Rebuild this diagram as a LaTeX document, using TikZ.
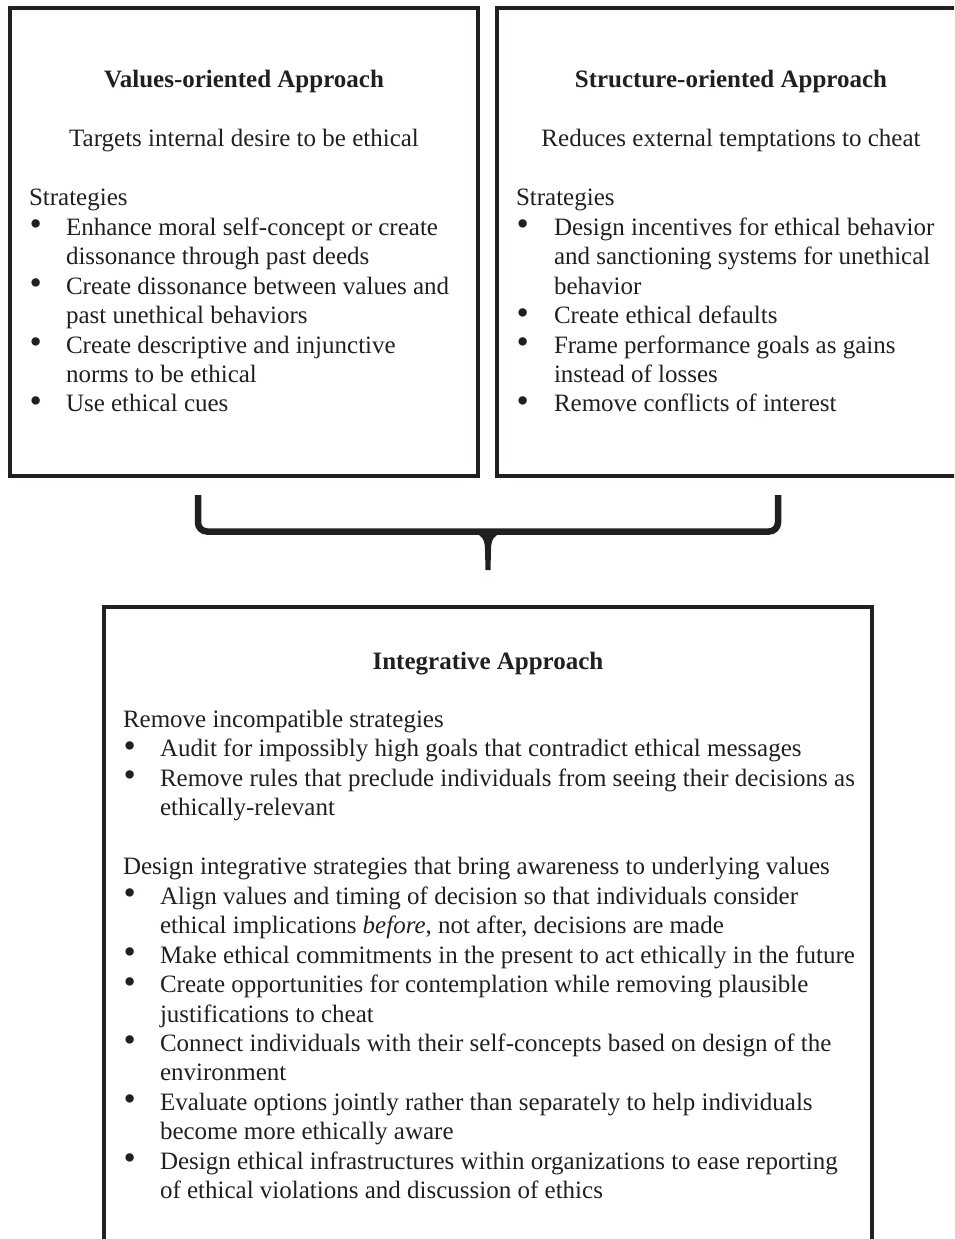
\documentclass[tikz,border=0pt]{standalone}
\usepackage{fontspec}
\usepackage{graphicx}
\setmainfont{Liberation Serif}
\definecolor{ink}{RGB}{35,31,32}

\begin{document}
\begin{tikzpicture}[x=1pt,y=-1pt,line width=4pt,draw=ink,
  txt/.style={inner sep=0pt,text=ink,font=\fontsize{25}{29.45}\selectfont},
  ttl/.style={txt,anchor=base,font=\fontsize{25}{29.45}\selectfont\bfseries},
  sub/.style={txt,anchor=base},
  lst/.style={txt,anchor=base west}]
\newcommand{\bul}{\hspace*{0.5pt}\raisebox{-0.5pt}{\scalebox{1.4}{\textbullet}}}
\useasboundingbox (0,0) rectangle (954,1239);
\clip (0,0) rectangle (954,1239);
% ---------- the three boxes ----------
\draw (10,8) rectangle (478,476);
\draw (497,8) rectangle (965,476);
\draw (104,607) rectangle (872,1262);
% ---------- values-oriented approach ----------
\node[ttl] (vtitle) at (244,88) {Values-oriented Approach};
\node[sub] (vsub) at (244,146.9) {Targets internal desire to be ethical};
\node[lst] (vlist) at (27,205.8) {\begin{tabular}[t]{@{}p{37pt}@{}l@{}}
  \multicolumn{2}{@{}l@{}}{Strategies}\\
  \bul & Enhance moral self-concept or create\\
       & dissonance through past deeds\\
  \bul & Create dissonance between values and\\
       & past unethical behaviors\\
  \bul & Create descriptive and injunctive\\
       & norms to be ethical\\
  \bul & Use ethical cues
\end{tabular}};
% ---------- structure-oriented approach ----------
\node[ttl] (stitle) at (731,88) {Structure-oriented Approach};
\node[sub] (ssub) at (731,146.9) {Reduces external temptations to cheat};
\node[lst] (slist) at (514,205.8) {\begin{tabular}[t]{@{}p{38pt}@{}l@{}}
  \multicolumn{2}{@{}l@{}}{Strategies}\\
  \bul & Design incentives for ethical behavior\\
       & and sanctioning systems for unethical\\
       & behavior\\
  \bul & Create ethical defaults\\
  \bul & Frame performance goals as gains\\
       & instead of losses\\
  \bul & Remove conflicts of interest
\end{tabular}};
% ---------- brace joining the two approaches ----------
\draw[line width=6.5pt,rounded corners=9pt] (198,495) |- (778,531.5) -- (778,495);
\fill[ink] (474,534) .. controls (482,534) and (485,540) .. (485,550)
  -- (485.5,570) -- (490.5,570) -- (491,550)
  .. controls (491,540) and (494,534) .. (502,534) -- cycle;
% ---------- integrative approach ----------
\node[ttl] (ititle) at (488,669) {Integrative Approach};
\node[lst] (ilist) at (121,727.5) {\begin{tabular}[t]{@{}p{37pt}@{}l@{}}
  \multicolumn{2}{@{}l@{}}{Remove incompatible strategies}\\
  \bul & Audit for impossibly high goals that contradict ethical messages\\
  \bul & Remove rules that preclude individuals from seeing their decisions as\\
       & ethically-relevant\\
       & \\
  \multicolumn{2}{@{}l@{}}{Design integrative strategies that bring awareness to underlying values}\\
  \bul & Align values and timing of decision so that individuals consider\\
       & ethical implications \emph{before}, not after, decisions are made\\
  \bul & Make ethical commitments in the present to act ethically in the future\\
  \bul & Create opportunities for contemplation while removing plausible\\
       & justifications to cheat\\
  \bul & Connect individuals with their self-concepts based on design of the\\
       & environment\\
  \bul & Evaluate options jointly rather than separately to help individuals\\
       & become more ethically aware\\
  \bul & Design ethical infrastructures within organizations to ease reporting\\
       & of ethical violations and discussion of ethics
\end{tabular}};
\end{tikzpicture}
\end{document}
